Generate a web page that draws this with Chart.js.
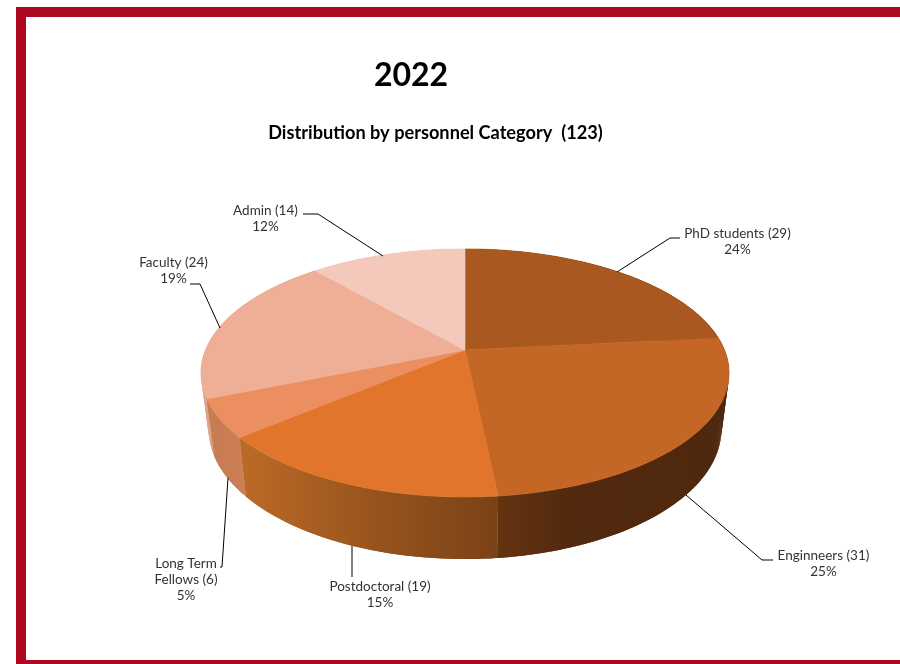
<!DOCTYPE html>
<html>
<head>
<meta charset="utf-8">
<title>Personnel distribution 2022</title>
<script src="https://cdn.jsdelivr.net/npm/chart.js@4"></script>
<style>
  html, body { margin: 0; padding: 0; background: #fff; overflow: hidden; }
  #stage { position: relative; width: 900px; height: 664px; overflow: hidden; }
  #frame { position: absolute; left: 16px; top: 7px; width: 900px; height: 643px; border: 10px solid #ae0820; border-bottom-width: 4px; border-right: 0; background: #fff; }
  #chart { position: absolute; left: 0; top: 0; display: block; }
</style>
</head>
<body>
<div id="stage">
  <div id="frame"></div>
  <canvas id="chart" width="900" height="664"></canvas>
</div>
<script>
const categories = ['PhD students', 'Enginneers', 'Postdoctoral', 'Long Term Fellows', 'Faculty', 'Admin'];
const headcounts = [29, 31, 19, 6, 24, 14];
const percentLabels = ['24%', '25%', '15%', '5%', '19%', '12%'];
const mainTitle = '2022';
const subTitle = 'Distribution by personnel Category  (123)';

const topColors = ['#a9591f', '#c46625', '#e0752b', '#ec8f60', '#efae96', '#f4c9bc'];
// Horizontal gradients along the rim: [x, colour] stops per slice
const rimStops = [
  [[600, '#4f2a0e'], [730, '#4f2a0e']],
  [[497, '#643410'], [570, '#52290e'], [730, '#4e280d']],
  [[245, '#ba6a26'], [390, '#94511c'], [497, '#7a4217']],
  [[205, '#c67a50'], [247, '#cd8058']],
  [[200, '#e2ab94'], [212, '#d99e83']],
  [[300, '#e8b8a8'], [400, '#e8b8a8']]
];

// Callout layout: polyline and centred text block for each slice
const callouts = [
  { line: [[617, 272], [670, 238], [680, 238]], textX: 737.5, textY: 234, lines: ['PhD students (29)', '24%'] },
  { line: [[686, 495], [762, 560], [773, 560]], textX: 823.5, textY: 556, lines: ['Enginneers (31)', '25%'] },
  { line: [[352, 546], [352, 577]], textX: 380, textY: 587, lines: ['Postdoctoral (19)', '15%'] },
  { line: [[228, 478], [222, 567], [220, 567]], textX: 186, textY: 564, lines: ['Long Term', 'Fellows (6)', '5%'] },
  { line: [[220, 328], [200, 284], [190, 284]], textX: 173.5, textY: 263, lines: ['Faculty (24)', '19%'] },
  { line: [[383, 256], [318, 214], [303, 214]], textX: 265.5, textY: 211, lines: ['Admin (14)', '12%'] }
];

// Perspective of the tilted disc, as fractions of the pie radius
const TILT = 0.185;
const TOP_FACE = { ax: 0.983, by: 0.4538, shift: 0 };
const BASE_FACE = { ax: 0.9545, by: 0.4754, shift: 55 };
// Foreshortening pulls points near the front of the disc slightly back round
const FRONT_PULL = 1.6 * Math.PI / 180;

function project(arc, face, angle) {
  const fromTop = angle + Math.PI / 2;
  const s = Math.sin(fromTop / 2);
  const warped = angle - FRONT_PULL * s * s;
  const u = Math.cos(warped), v = Math.sin(warped);
  const d = 1 - TILT * v;
  return [
    arc.x + arc.outerRadius * face.ax * u / d,
    arc.y + face.shift + arc.outerRadius * face.by * v / d
  ];
}

function traceEdge(ctx, arc, face, from, to, first) {
  const steps = Math.max(4, Math.ceil(Math.abs(to - from) / 0.01));
  for (let i = 0; i <= steps; i++) {
    const p = project(arc, face, from + (to - from) * i / steps);
    if (i === 0 && first) ctx.moveTo(p[0], p[1]); else ctx.lineTo(p[0], p[1]);
  }
}

const tiltedPie = {
  id: 'tiltedPie',
  beforeDatasetDraw(chart, args) {
    const ctx = chart.ctx;
    const arcs = args.meta.data;
    const order = arcs.map((a, i) => i).sort((i, j) =>
      Math.sin((arcs[i].startAngle + arcs[i].endAngle) / 2) -
      Math.sin((arcs[j].startAngle + arcs[j].endAngle) / 2));

    // Rim first, back to front, as overlapping strips so the silhouette stays convex
    order.forEach(i => {
      const arc = arcs[i];
      const stops = rimStops[i];
      const x0 = stops[0][0], x1 = stops[stops.length - 1][0];
      const grad = ctx.createLinearGradient(x0, 0, x1, 0);
      stops.forEach(s => grad.addColorStop((s[0] - x0) / (x1 - x0), s[1]));
      ctx.fillStyle = grad;
      const step = 0.012;
      const n = Math.ceil((arc.endAngle - arc.startAngle) / step);
      for (let k = 0; k < n; k++) {
        const a0 = arc.startAngle + k * step;
        const a1 = Math.min(arc.endAngle, a0 + 2 * step);
        const p0 = project(arc, TOP_FACE, a0), p1 = project(arc, TOP_FACE, a1);
        const q0 = project(arc, BASE_FACE, a0), q1 = project(arc, BASE_FACE, a1);
        ctx.beginPath();
        ctx.moveTo(p0[0], p0[1]);
        ctx.lineTo(p1[0], p1[1]);
        ctx.lineTo(q1[0], q1[1]);
        ctx.lineTo(q0[0], q0[1]);
        ctx.closePath();
        ctx.fill();
      }
    });

    // Top face wedges
    arcs.forEach(arc => {
      ctx.beginPath();
      ctx.moveTo(arc.x, arc.y);
      traceEdge(ctx, arc, TOP_FACE, arc.startAngle, arc.endAngle, false);
      ctx.closePath();
      ctx.fillStyle = arc.options.backgroundColor;
      ctx.strokeStyle = arc.options.backgroundColor;
      ctx.lineWidth = 0.6;
      ctx.fill();
      ctx.stroke();
    });
    return false;
  },
  afterDraw(chart) {
    const ctx = chart.ctx;
    ctx.save();
    ctx.textAlign = 'center';
    ctx.textBaseline = 'middle';
    ctx.fillStyle = '#000';
    ctx.font = 'bold 32px Lato';
    ctx.fillText(mainTitle, 411, 76);
    ctx.font = 'bold 18.2px Lato';
    ctx.fillText(subTitle, 435.5, 133);

    ctx.strokeStyle = '#000';
    ctx.lineWidth = 1;
    callouts.forEach(c => {
      ctx.beginPath();
      c.line.forEach((p, i) => i ? ctx.lineTo(p[0], p[1]) : ctx.moveTo(p[0], p[1]));
      ctx.stroke();
      ctx.fillStyle = '#333';
      ctx.font = '13.5px Lato';
      c.lines.forEach((t, i) => ctx.fillText(t, c.textX, c.textY + i * 16));
    });
    ctx.restore();
  }
};

new Chart(document.getElementById('chart'), {
  type: 'pie',
  data: {
    labels: categories,
    datasets: [{ data: headcounts, backgroundColor: topColors, borderWidth: 0 }]
  },
  options: {
    responsive: false,
    animation: false,
    events: [],
    layout: { padding: { left: 201, right: 171, top: 86, bottom: 50 } },
    plugins: { legend: { display: false }, tooltip: { enabled: false }, title: { display: false } }
  },
  plugins: [tiltedPie]
});
</script>
</body>
</html>
